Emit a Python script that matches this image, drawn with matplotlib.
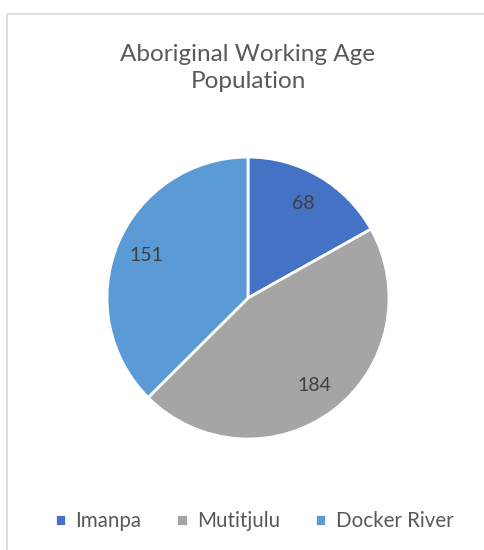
import matplotlib.pyplot as plt
from matplotlib.patches import Rectangle

title = "Aboriginal Working Age\nPopulation"
communities = ["Imanpa", "Mutitjulu", "Docker River"]
population = [68, 184, 151]
colors = ["#4472C4", "#A5A5A5", "#5B9BD5"]

plt.rcParams['font.family'] = ['Lato', 'DejaVu Sans']

fig = plt.figure(figsize=(4.84, 5.5), dpi=100)

# chart area border (runs off the right and bottom edges)
fig.patches.append(Rectangle((7 / 484, -0.1), 1.2, (550 - 14) / 550 + 0.1,
                             transform=fig.transFigure, fill=False,
                             edgecolor="#D9D9D9", linewidth=1.2))

ax = fig.add_axes([0.2211, 0.2018, 0.5826, 0.5127])
total = sum(population)
wedges, texts, autotexts = ax.pie(
    population, colors=colors, startangle=90, counterclock=False,
    wedgeprops=dict(edgecolor="white", linewidth=2),
    autopct=lambda p: f"{round(p * total / 100):d}", pctdistance=0.78,
    textprops=dict(color="#404040", fontsize=14))
ax.set_xlim(-1, 1)
ax.set_ylim(-1, 1)
ax.set_aspect("auto")

fig.text(248 / 484, 1 - 68 / 550, title, ha="center", va="center",
         fontsize=17.5, color="#595959", linespacing=1.3)

leg = ax.legend(wedges, communities, loc="center", ncol=3, frameon=False,
                fontsize=14.8, labelcolor="#595959", handlelength=0.55,
                handleheight=0.55, handletextpad=0.45, columnspacing=1.7)
leg.set_bbox_to_anchor((254 / 484, 1 - 521 / 550), transform=fig.transFigure)

fig.savefig("out.png", dpi=100)
